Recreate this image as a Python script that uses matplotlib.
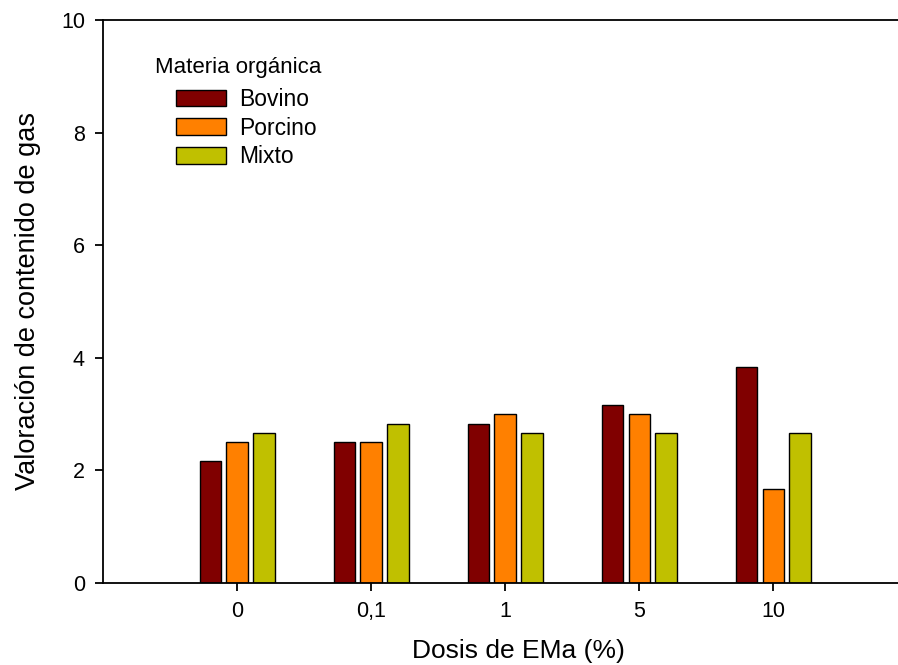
import numpy as np
import matplotlib
matplotlib.use('Agg')
import matplotlib.pyplot as plt

plt.rc('font', family=['Liberation Sans', 'DejaVu Sans'], size=15)

dosis = ['0', '0,1', '1', '5', '10']
bovino = [2.17, 2.5, 2.83, 3.17, 3.83]
porcino = [2.5, 2.5, 3.0, 3.0, 1.67]
mixto = [2.67, 2.83, 2.67, 2.67, 2.67]
series = ['Bovino', 'Porcino', 'Mixto']
colors = ['#800000', '#FF8000', '#C0C000']

fig = plt.figure(figsize=(8.98, 6.65), dpi=100)
ax = fig.add_axes([103 / 898, 1 - 583 / 665, 1 - 103 / 898, (583 - 20) / 665])

x = np.arange(len(dosis))
w = 0.16
for i, (vals, name, c) in enumerate(zip([bovino, porcino, mixto], series, colors)):
    ax.bar(x + (i - 1) * 0.2, vals, width=w, color=c, edgecolor='black',
           linewidth=1, label=name)

ax.set_xlim(-1, 4.93)
ax.set_ylim(0, 10)
ax.set_xticks(x)
ax.set_xticklabels(dosis)
ax.set_yticks([0, 2, 4, 6, 8, 10])
ax.spines['right'].set_visible(False)
for s in ax.spines.values():
    s.set_linewidth(1.3)
ax.tick_params(direction='out', length=6, width=1.3, pad=7, labelsize=15.5)
ax.set_xlabel('Dosis de EMa (%)', fontsize=19)
ax.set_ylabel('Valoración de contenido de gas', fontsize=19.5)
ax.xaxis.set_label_coords((518 - 103) / 795, -(651 - 583) / 563, transform=ax.transAxes)
ax.yaxis.set_label_coords(-(103 - 28) / 795, 0.5, transform=ax.transAxes)
ax.xaxis.label.set_va('center')
ax.yaxis.label.set_va('center')

fig.text(155 / 898, 1 - 68 / 665, 'Materia orgánica', fontsize=16, va='center')
ax.legend(loc='upper left', bbox_to_anchor=(176 / 898, 1 - 88 / 665),
          bbox_transform=fig.transFigure, frameon=False, borderpad=0,
          borderaxespad=0, handlelength=2.2, handleheight=0.74,
          labelspacing=0.25, handletextpad=0.55, fontsize=16.5)

fig.savefig('out.png', dpi=100)
